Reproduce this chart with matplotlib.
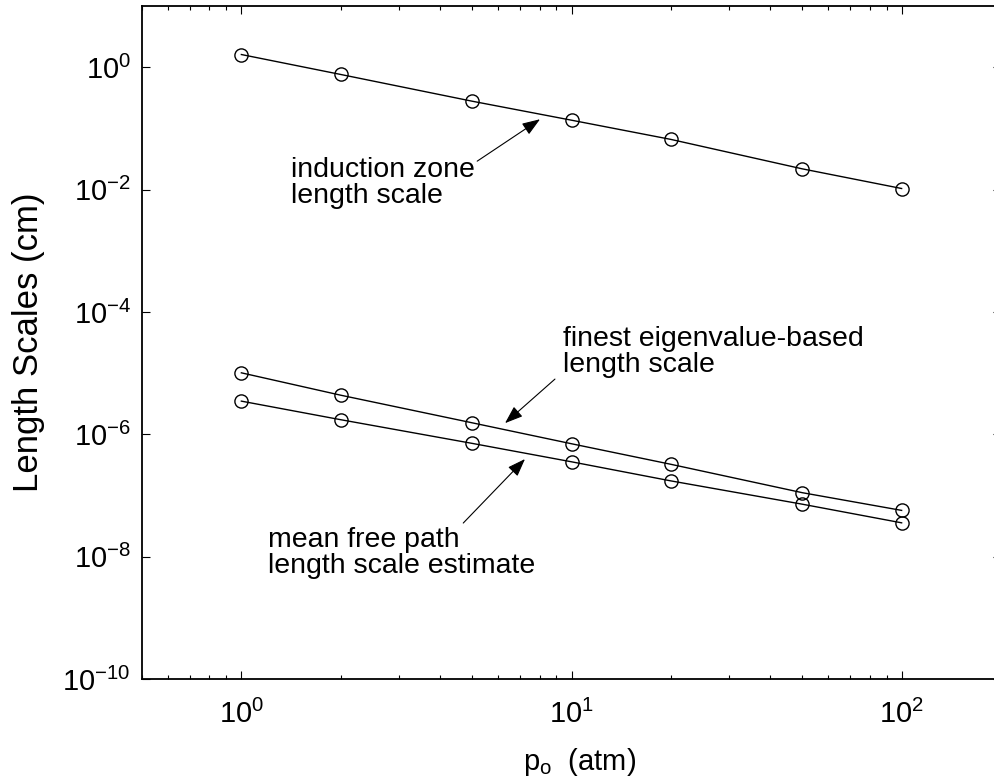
import matplotlib
matplotlib.use("Agg")
import matplotlib.pyplot as plt
import numpy as np

plt.rcParams['font.family'] = ['Liberation Sans', 'DejaVu Sans']
plt.rcParams['mathtext.fontset'] = 'custom'
plt.rcParams['mathtext.rm'] = 'Liberation Sans'
plt.rcParams['mathtext.it'] = 'Liberation Sans:italic'
plt.rcParams['mathtext.bf'] = 'Liberation Sans:bold'

# Data
pressure = [1, 2, 5, 10, 20, 50, 100]
induction_zone = [1.61, 0.76, 0.278, 0.136, 0.066, 0.0218, 0.0104]
finest_eigen = [1.01e-5, 4.35e-6, 1.54e-6, 7.0e-7, 3.23e-7, 1.11e-7, 5.7e-8]
mean_free_path = [3.48e-6, 1.73e-6, 7.1e-7, 3.55e-7, 1.73e-7, 7.2e-8, 3.57e-8]

x_ticks = [1, 10, 100]
x_ticklabels = [r'$10^{0}$', r'$10^{1}$', r'$10^{2}$']
y_ticks = [1e-10, 1e-8, 1e-6, 1e-4, 1e-2, 1e0]
y_ticklabels = [r'$10^{-10}$', r'$10^{-8}$', r'$10^{-6}$', r'$10^{-4}$', r'$10^{-2}$', r'$10^{0}$']

# Annotations: (text, text position, arrow tail, arrow head)
annotations = [
    ('induction zone\nlength scale', (1.41, 0.013), (5.18, 0.0291), (8.03, 0.141)),
    ('finest eigenvalue-based\nlength scale', (9.43, 2.2e-5), (8.91, 7.98e-6), (6.29, 1.52e-6)),
    ('mean free path\nlength scale estimate', (1.20, 1.15e-8), (4.70, 3.54e-8), (7.23, 3.94e-7)),
]

W, H = 995, 783
fig = plt.figure(figsize=(W / 100, H / 100), dpi=100)
left_px, right_px, top_px, bottom_px = 142, 1001, 6, 679
ax = fig.add_axes([left_px / W, (H - bottom_px) / H,
                   (right_px - left_px) / W, (bottom_px - top_px) / H])

style = dict(color='black', linewidth=1.0, marker='o', markersize=9.5,
             markerfacecolor='none', markeredgecolor='black', markeredgewidth=1.0)
ax.plot(pressure, induction_zone, **style)
ax.plot(pressure, finest_eigen, **style)
ax.plot(pressure, mean_free_path, **style)

ax.set_xscale('log')
ax.set_yscale('log')
ax.set_xlim(0.5, 200)
ax.set_ylim(1e-10, 1e1)

ax.set_xticks(x_ticks)
ax.set_xticklabels(x_ticklabels)
ax.set_yticks(y_ticks)
ax.set_yticklabels(y_ticklabels)
ax.yaxis.set_minor_locator(matplotlib.ticker.NullLocator())
ax.xaxis.set_minor_locator(matplotlib.ticker.LogLocator(base=10, subs=np.arange(2, 10)))
ax.xaxis.set_minor_formatter(matplotlib.ticker.NullFormatter())

ax.tick_params(which='both', direction='in', top=True, right=True, width=0.8)
ax.tick_params(which='major', length=6, labelsize=21)
ax.tick_params(axis='y', which='major', pad=8)
ax.tick_params(axis='x', which='major', pad=15)
ax.tick_params(which='minor', length=3)
for s in ax.spines.values():
    s.set_linewidth(1.3)

ax.set_xlabel(r'p$_{\mathrm{o}}$  (atm)', fontsize=21)
ax.set_ylabel('Length Scales (cm)', fontsize=25)
ax.xaxis.set_label_coords(0.509, -0.100)
ax.yaxis.set_label_coords(-0.113, 0.5)

fs = 20.5
for txt, tpos, tail, head in annotations:
    ax.text(tpos[0], tpos[1], txt, fontsize=fs, ha='left', va='center', linespacing=1.0)
    ax.annotate('', xy=head, xytext=tail,
                arrowprops=dict(arrowstyle='-|>,head_length=0.55,head_width=0.2',
                                mutation_scale=20, color='black', lw=0.8,
                                shrinkA=0, shrinkB=0))

fig.savefig('out.png', dpi=100)
